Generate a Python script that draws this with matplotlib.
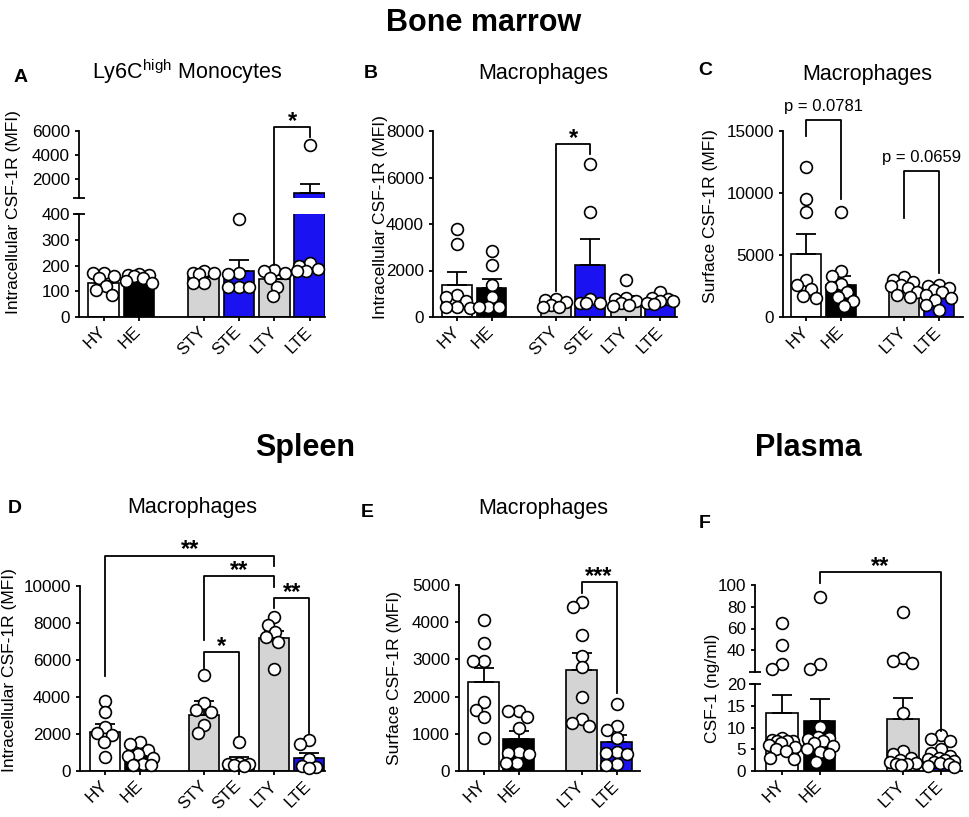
import numpy as np
import matplotlib
matplotlib.use('Agg')
import matplotlib.pyplot as plt

plt.rcParams['font.family'] = ['Liberation Sans', 'DejaVu Sans']
plt.rcParams['mathtext.fontset'] = 'custom'
plt.rcParams['mathtext.rm'] = 'Liberation Sans'

# ---- data ----
groups6 = ['HY', 'HE', 'STY', 'STE', 'LTY', 'LTE']
groups4 = ['HY', 'HE', 'LTY', 'LTE']

a_mean = [131, 145, 155, 179, 147, 780]
a_sem = [10, 6, 8, 42, 15, 810]
a_pts = [[172, 170, 160, 150, 120, 105, 85],
         [168, 165, 163, 158, 150, 140, 133],
         [177, 172, 170, 166, 131, 131],
         [382, 170, 166, 118, 118, 118],
         [182, 178, 170, 150, 118, 80],
         [4850, 210, 200, 185, 180, 178]]

b_mean = [1360, 1230, 520, 2240, 760, 650]
b_sem = [590, 390, 60, 1100, 150, 80]
b_pts = [[3800, 3150, 950, 880, 700, 450, 420, 400],
         [2850, 2230, 1380, 880, 450, 450, 440],
         [760, 730, 630, 520, 450, 440],
         [6600, 4500, 760, 620, 610, 600],
         [1590, 830, 780, 700, 620, 520, 480],
         [1090, 800, 760, 700, 680, 600, 550]]

c_mean = [5080, 2580, 2450, 1590]
c_sem = [1590, 750, 200, 300]
c_pts = [[12100, 9500, 8500, 3000, 2600, 2250, 1700, 1500],
         [8500, 3700, 3300, 2700, 2400, 2000, 1600, 1300, 900],
         [3250, 3000, 2800, 2600, 2500, 2300, 2050, 1800, 1600],
         [2600, 2500, 2350, 2200, 2000, 1800, 1500, 1400, 950, 600]]

d_mean = [2090, 850, 3040, 520, 7180, 700]
d_sem = [450, 300, 720, 215, 410, 300]
d_pts = [[3800, 3200, 2400, 2050, 1950, 1550, 750],
         [1550, 1450, 1150, 900, 800, 700, 400, 350, 300],
         [5200, 3650, 3300, 3200, 2500, 2050],
         [1550, 450, 400, 380, 300, 280],
         [8350, 7900, 7500, 7250, 6950, 5500],
         [1700, 1450, 650, 250, 200, 150]]

e_mean = [2380, 860, 2720, 780]
e_sem = [400, 205, 465, 190]
e_pts = [[4050, 3450, 2950, 2950, 1850, 1650, 1450, 900],
         [1620, 1600, 1450, 1150, 500, 480, 470, 220, 210],
         [4550, 4400, 3650, 3100, 2800, 2000, 1400, 1300, 1200],
         [1800, 1200, 1100, 900, 500, 480, 470, 200, 170]]

f_mean = [13.3, 11.6, 11.9, 3.4]
f_sem = [4.1, 4.9, 4.8, 0.6]
f_pts = [[65, 45, 27, 23, 7.5, 7.2, 7.0, 7.0, 6.8, 6.5, 6.0, 5.5, 5.0, 4.5, 3.0, 2.8],
         [89, 27, 23, 10.2, 7.8, 7.6, 7.4, 7.0, 6.5, 5.8, 5.0, 4.3, 4.0, 2.0],
         [75, 33, 30, 28, 13.3, 4.7, 4.0, 3.0, 2.5, 2.0, 1.8, 1.5, 1.5, 1.3],
         [8.2, 7.3, 6.8, 5.0, 4.2, 3.5, 3.0, 2.8, 2.5, 2.2, 2.0, 1.8, 1.5, 1.2, 1.0]]

COL = {'HY': 'white', 'HE': 'black', 'STY': '#d4d4d4', 'LTY': '#d4d4d4',
       'STE': '#1a12f0', 'LTE': '#1a12f0'}

W, H = 969, 817
fig = plt.figure(figsize=(W / 100, H / 100), dpi=100)
LW = 1.3


def new_ax(x0, y0, x1, y1):
    return fig.add_axes([x0 / W, 1 - y1 / H, (x1 - x0) / W, (y1 - y0) / H])


def style(ax, xlim, ylim, yticks, pos=None, labels=None):
    ax.set_xlim(xlim)
    ax.set_ylim(ylim)
    ax.patch.set_alpha(0)
    for s in ['top', 'right']:
        ax.spines[s].set_visible(False)
    for s in ['left', 'bottom']:
        ax.spines[s].set_linewidth(LW)
    ax.set_yticks(yticks)
    ax.tick_params(axis='both', direction='out', length=3, width=LW,
                   labelsize=12.3, pad=3.4)
    if pos is None:
        ax.spines['bottom'].set_visible(False)
        ax.tick_params(axis='x', bottom=False, labelbottom=False)
    else:
        ax.set_xticks(pos)
        ax.set_xticklabels(labels, rotation=45, ha='right', va='center',
                           rotation_mode='anchor')
        ax.tick_params(axis='x', pad=6)


def swarm_x(ax, xc, ypix, d=10.5, half=13):
    ppu = ax.transData.transform((1, 0))[0] - ax.transData.transform((0, 0))[0]
    cand = sorted(np.arange(-half, half + 0.01, 0.5), key=lambda c: (abs(c), c))
    placed, xs = [], []
    for y in ypix:
        chosen, best, bestd = None, 0.0, -1.0
        for c in cand:
            md = min([np.hypot(c - px, y - py) for px, py in placed], default=1e9)
            if md >= d:
                chosen = c
                break
            if md > bestd:
                best, bestd = c, md
        if chosen is None:
            chosen = best
        placed.append((chosen, y))
        xs.append(xc + chosen / ppu)
    return xs


def panel(ax_lo, pos, groups, means, sems, pts, width, ax_up=None, split=None):
    axes = [ax_lo] + ([ax_up] if ax_up is not None else [])
    for ax in axes:
        ax.bar(pos, means, width=width, color=[COL[g] for g in groups],
               edgecolor='black', linewidth=1.2, zorder=2)
        ax.errorbar(pos, means, yerr=[np.zeros(len(means)), sems], fmt='none',
                    ecolor='black', elinewidth=LW, capsize=7, capthick=LW, zorder=2.5)
    for i, vals in enumerate(pts):
        owner = [ax_up if (ax_up is not None and v > split) else ax_lo for v in vals]
        ypx = [a.transData.transform((0, v))[1] for a, v in zip(owner, vals)]
        xs = swarm_x(ax_lo, pos[i], ypx)
        for ax in axes:
            sel = [k for k in range(len(vals)) if owner[k] is ax]
            if sel:
                ax.plot([xs[k] for k in sel], [vals[k] for k in sel], 'o', ms=8.5,
                        mfc='white', mec='black', mew=1.2, zorder=3, clip_on=False)


def bracket(ax, x1, x2, top, b1, b2, label, star=True):
    ax.plot([x1, x1, x2, x2], [b1, top, top, b2], color='black', lw=LW,
            clip_on=False, zorder=4)
    if star:
        ax.annotate(label, ((x1 + x2) / 2, top), xytext=(0, -0.6),
                    textcoords='offset points', ha='center', va='baseline',
                    fontsize=17, fontweight='bold', annotation_clip=False)
    else:
        ax.annotate(label, ((x1 + x2) / 2, top), xytext=(0, 6.8),
                    textcoords='offset points', ha='center', va='baseline',
                    fontsize=12, annotation_clip=False)


def lo_to_up(ax_lo, ax_up, v):
    return ax_up.transData.inverted().transform(ax_lo.transData.transform((0, v)))[1]


def crossbar(ax, yfrac):
    ax.plot([0], [yfrac], marker='_', ms=8, mew=LW, color='black',
            transform=ax.transAxes, clip_on=False)


pos6 = [0, 1, 2.85, 3.85, 4.87, 5.87]
pos4 = [0, 1, 2.8, 3.8]
posf = [0, 1, 3.23, 4.24]

# ---- A (broken axis) ----
a_lo = new_ax(79, 214, 325, 317)
a_up = new_ax(79, 131, 325, 198)
style(a_lo, (-0.70, 6.31), (0, 400), [0, 100, 200, 300, 400], pos6, groups6)
style(a_up, (-0.70, 6.31), (400, 6000), [2000, 4000, 6000])
crossbar(a_lo, 1)
crossbar(a_up, 0)
panel(a_lo, pos6, groups6, a_mean, a_sem, a_pts, 0.86, a_up, 400)
bracket(a_up, pos6[4], pos6[5], 6334, lo_to_up(a_lo, a_up, 202), 5500, '*')

# ---- B ----
b_ax = new_ax(433, 131, 677, 317)
style(b_ax, (-0.69, 6.35), (0, 8000), [0, 2000, 4000, 6000, 8000], pos6, groups6)
panel(b_ax, pos6, groups6, b_mean, b_sem, b_pts, 0.86)
bracket(b_ax, pos6[2], pos6[3], 7430, 1130, 7000, '*')

# ---- C ----
c_ax = new_ax(783, 131, 963, 317)
style(c_ax, (-0.67, 4.5), (0, 15000), [0, 5000, 10000, 15000], pos4, groups4)
panel(c_ax, pos4, groups4, c_mean, c_sem, c_pts, 0.86)
bracket(c_ax, pos4[0], pos4[1], 15880, 14600, 9500, 'p = 0.0781', star=False)
bracket(c_ax, pos4[2], pos4[3], 11770, 7980, 3550, 'p = 0.0659', star=False)

# ---- D ----
d_ax = new_ax(80, 586, 325, 771)
style(d_ax, (-0.73, 6.33), (0, 10000), [0, 2000, 4000, 6000, 8000, 10000], pos6, groups6)
panel(d_ax, pos6, groups6, d_mean, d_sem, d_pts, 0.86)
bracket(d_ax, pos6[0], pos6[4], 11640, 5140, 11080, '**')
bracket(d_ax, pos6[2], pos6[4], 10540, 7090, 9960, '**')
bracket(d_ax, pos6[4], pos6[5], 9340, 8830, 2050, '**')
bracket(d_ax, pos6[2], pos6[3], 6440, 5560, 1870, '*')

# ---- E ----
e_ax = new_ax(459, 585, 640, 771)
style(e_ax, (-0.70, 4.47), (0, 5000), [0, 1000, 2000, 3000, 4000, 5000], pos4, groups4)
panel(e_ax, pos4, groups4, e_mean, e_sem, e_pts, 0.86)
bracket(e_ax, pos4[2], pos4[3], 5070, 4780, 2110, '***')

# ---- F (broken axis) ----
f_lo = new_ax(755, 684, 962, 771)
f_up = new_ax(755, 585, 962, 672)
style(f_lo, (-0.72, 4.8), (0, 20), [0, 5, 10, 15, 20], posf, groups4)
style(f_up, (-0.72, 4.8), (20, 100), [40, 60, 80, 100])
crossbar(f_lo, 1)
crossbar(f_up, 0)
panel(f_lo, posf, groups4, f_mean, f_sem, f_pts, 0.85, f_up, 20)
bracket(f_up, posf[1], posf[3], 112, 102, lo_to_up(f_lo, f_up, 9.2), '**')

# ---- texts ----
def ftext(x, y, s, **kw):
    fig.text(x / W, 1 - y / H, s, **kw)

ftext(484, 31, 'Bone marrow', fontsize=22, fontweight='bold', ha='center', va='baseline')
ftext(305, 456, 'Spleen', fontsize=22, fontweight='bold', ha='center', va='baseline')
ftext(808, 456, 'Plasma', fontsize=22, fontweight='bold', ha='center', va='baseline')

for x, y, s in [(21, 82, 'A'), (371, 78, 'B'), (705, 75, 'C'),
                (15, 513, 'D'), (367, 517, 'E'), (705, 528, 'F')]:
    ftext(x, y, s, fontsize=14, fontweight='bold', ha='center', va='baseline')

for x, y, s in [(187, 79, r'Ly6C$^{\rm high}$ Monocytes'), (543, 79, 'Macrophages'),
                (867, 80, 'Macrophages'), (192, 513, 'Macrophages'),
                (543, 514, 'Macrophages')]:
    ftext(x, y, s, fontsize=15.5, ha='center', va='baseline')

for x, y, s in [(14, 212, 'Intracellular CSF-1R (MFI)'), (380, 217, 'Intracellular CSF-1R (MFI)'),
                (711, 216, 'Surface CSF-1R (MFI)'), (10, 670, 'Intracellular CSF-1R (MFI)'),
                (395, 678, 'Surface CSF-1R (MFI)'), (712, 688, 'CSF-1 (ng/ml)')]:
    ftext(x, y, s, fontsize=12.5, rotation=90, ha='center', va='center')

fig.savefig('out.png', dpi=100)
